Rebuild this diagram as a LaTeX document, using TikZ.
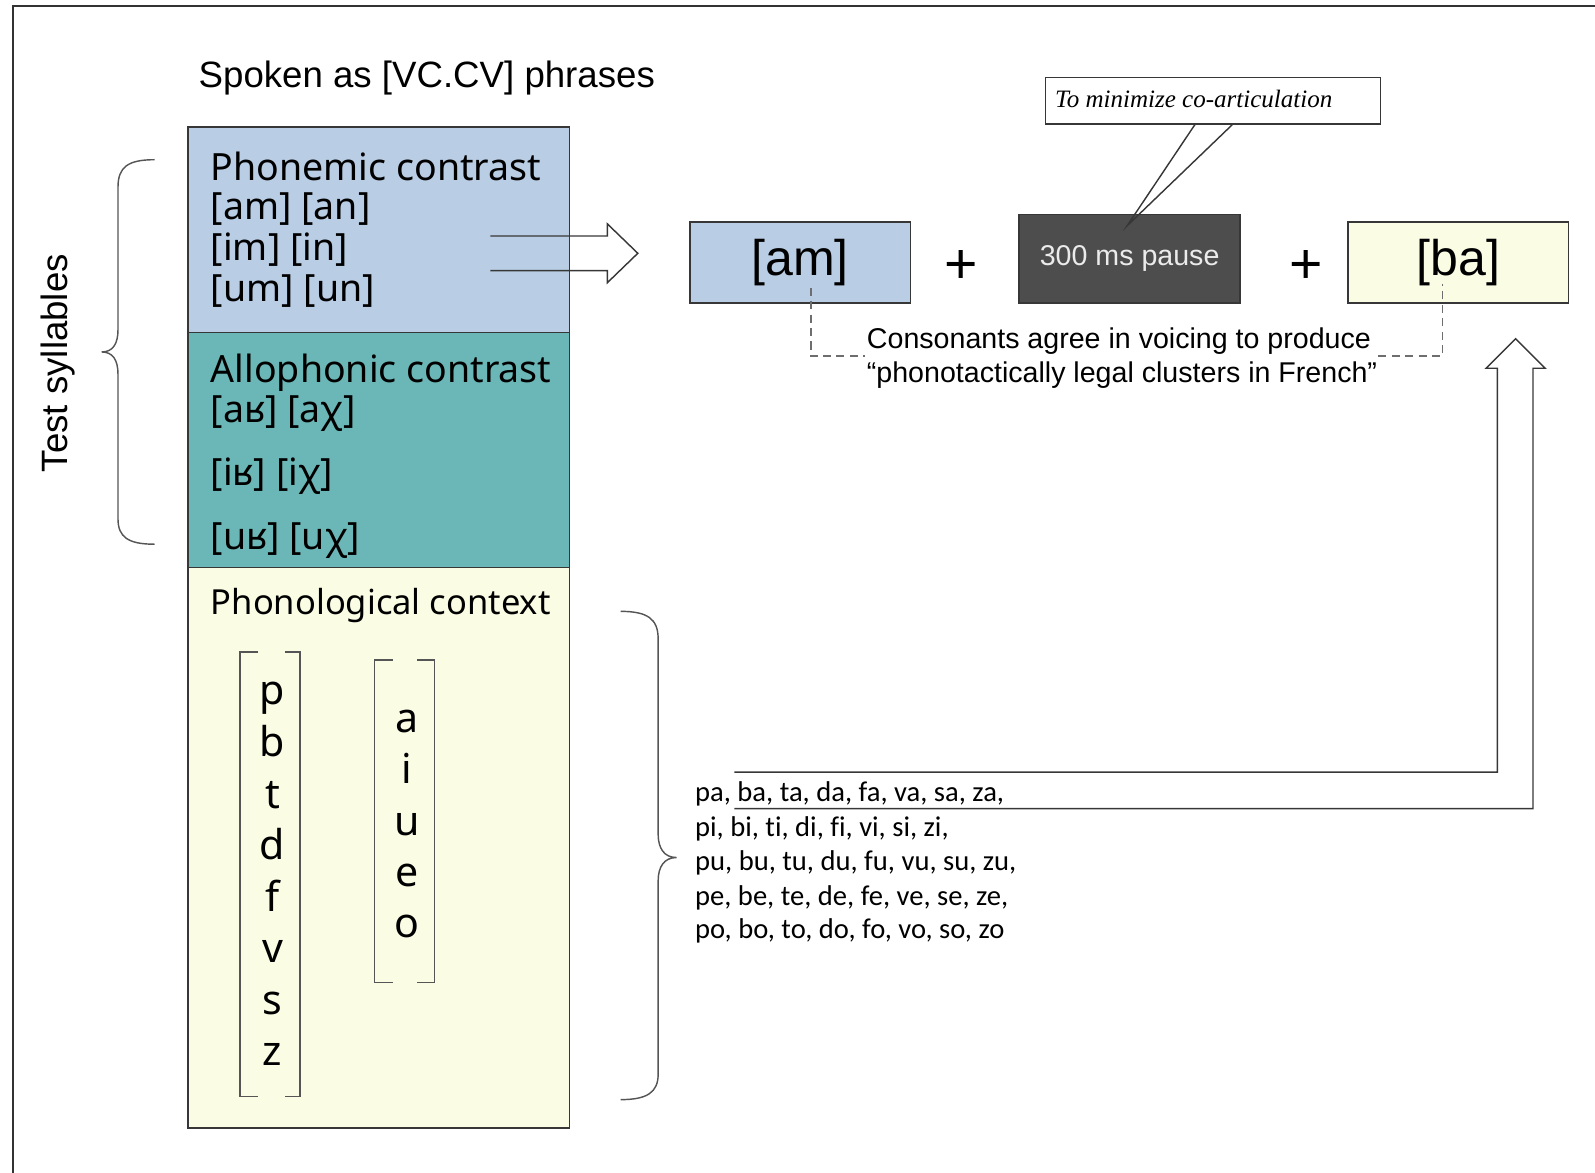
\documentclass[tikz,border=0pt]{standalone}
\usepackage{fontspec}
\setmainfont{Liberation Sans}
\newfontfamily\ipafont{Noto Sans}
\newfontfamily\listfont[Ligatures=NoCommon]{Carlito}
\newfontfamily\notefont{Liberation Serif}
\definecolor{phonblue}{RGB}{185,205,228}
\definecolor{allteal}{RGB}{107,183,183}
\definecolor{ctxyellow}{RGB}{250,252,228}
\definecolor{pausegray}{RGB}{77,77,77}
\definecolor{edgegray}{RGB}{55,55,55}
\definecolor{linegray}{RGB}{85,85,85}
\definecolor{dashgray}{RGB}{110,110,110}
\begin{document}
\begin{tikzpicture}[x=0.02cm,y=-0.02cm,
  panel/.style={draw=edgegray,line width=0.9pt,minimum width=7.5cm,inner sep=0pt},
  sbox/.style={draw=edgegray,line width=0.9pt,minimum width=4.34cm,minimum height=1.6cm,inner sep=0pt},
  head/.style={anchor=base west,inner sep=0pt,font=\ipafont\fontsize{21}{25}\selectfont},
  seg/.style={anchor=base,inner sep=0pt,font=\ipafont\fontsize{23}{27}\selectfont},
  syl/.style={anchor=base west,inner sep=0pt,font=\listfont\fontsize{16}{19}\selectfont},
  brk/.style={draw=linegray,line width=0.8pt},
  bracecurve/.style={draw=linegray,line width=0.8pt},
  blockarrow/.style={draw=edgegray,line width=0.8pt,line join=miter},
  voicing/.style={draw=dashgray,line width=0.9pt,dash pattern=on 4.5pt off 3pt},
  plus/.style={inner sep=0pt,font=\fontsize{32}{32}\selectfont}]
\useasboundingbox (0,0) rectangle (1568,1153);

% outer frame (top and left edges)
\draw[line width=1.1pt,black!80] (13,1153) -- (13,6) -- (1568,6);

% title
\node[anchor=base west,inner sep=0pt,font=\fontsize{20.5}{24}\selectfont] (title) at (195,86) {Spoken as [VC.CV] phrases};

% left column panels
\node[panel,fill=phonblue,minimum height=4.04cm] (phon) at (372.5,226) {};
\node[panel,fill=allteal,minimum height=4.62cm] (allo) at (372.5,442.5) {};
\node[panel,fill=ctxyellow,minimum height=11.02cm] (ctx) at (372.5,833.5) {};

% phonemic contrast
\node[head] (phonhead) at (207,177) {Phonemic contrast};
\node[head] (phon1) at (207,216) {[am] [an]};
\node[head] (phon2) at (207,256) {[im] [in]};
\node[head] (phon3) at (207,296) {[um] [un]};

% allophonic contrast
\node[head] (allohead) at (207,376) {Allophonic contrast};
\node[head] (allo1) at (207,415) {[aʁ] [aχ]};
\node[head] (allo2) at (207,477) {[iʁ] [iχ]};
\node[head] (allo3) at (207,540) {[uʁ] [uχ]};

% phonological context
\node[head,font=\ipafont\fontsize{19.3}{23}\selectfont] (ctxhead) at (207,604) {Phonological context};

% consonants in brackets
\draw[brk] (254,641) -- (236,641) -- (236,1078) -- (254,1078);
\draw[brk] (280,641) -- (295,641) -- (295,1078) -- (280,1078);
\foreach \c [count=\i] in {p,b,t,d,f,v,s,z}
  \node[seg] (cons\i) at (268,{693+(\i-1)*50.7}) {\c};

% vowels in brackets
\draw[brk] (386,649) -- (368,649) -- (368,966) -- (386,966);
\draw[brk] (410,649) -- (427,649) -- (427,966) -- (410,966);
\foreach \v [count=\i] in {a,i,u,e,o}
  \node[seg] (vow\i) at (400,{720+(\i-1)*50.5}) {\v};

% braces
\node[rotate=90,inner sep=0pt,font=\fontsize{20.5}{24}\selectfont] (testsyl) at (57,357) {Test syllables};
\draw[bracecurve] (152,157) .. controls (126,157) and (116,164) .. (116,184) -- (116,324)
  .. controls (116,338) and (111,346) .. (100,346)
  .. controls (111,346) and (116,354) .. (116,368) -- (116,510)
  .. controls (116,528) and (126,535) .. (152,535);
\draw[bracecurve] (610,601) .. controls (636,601) and (647,608) .. (647,628) -- (647,820)
  .. controls (647,834) and (653,843) .. (665,843)
  .. controls (653,843) and (647,852) .. (647,866) -- (647,1056)
  .. controls (647,1074) and (636,1081) .. (610,1081);

% syllable list
\node[syl] (syla) at (683,788) {pa, ba, ta, da, fa, va, sa, za,};
\node[syl] (syli) at (683,822) {pi, bi, ti, di, fi, vi, si, zi,};
\node[syl] (sylu) at (683,856) {pu, bu, tu, du, fu, vu, su, zu,};
\node[syl] (syle) at (683,890) {pe, be, te, de, fe, ve, se, ze,};
\node[syl] (sylo) at (683,923) {po, bo, to, do, fo, vo, so, zo};

% stimulus sequence
\node[sbox,fill=phonblue,font=\fontsize{28}{30}\selectfont] (am) at (786.5,258) {[am]};
\node[plus] (plus1) at (945,262) {+};
\node[sbox,fill=pausegray,minimum height=1.74cm,text=black!8,font=\fontsize{16}{18}\selectfont] (pause) at (1110.5,254.5) {300 ms pause};
\node[plus] (plus2) at (1284,262) {+};
\node[sbox,fill=ctxyellow,font=\fontsize{28}{30}\selectfont] (ba) at (1433.5,258) {[ba]};

% callout
\node[draw=edgegray,line width=0.8pt,fill=white,minimum width=6.58cm,minimum height=0.92cm,inner sep=0pt] (callout) at (1192.5,99) {};
\node[anchor=base west,inner sep=0pt,font=\notefont\itshape\fontsize{14}{16}\selectfont] (callouttext) at (1037,106) {To minimize co-articulation};
\draw[edgegray,line width=0.8pt,line join=miter] (1175,122) -- (1108,222) -- (1212,122);

% block arrow from phonemic panel to the sequence
\draw[blockarrow] (482,232) -- (597,232) -- (597,220) -- (627,249) -- (597,278) -- (597,266) -- (482,266);

% block arrow from syllable list up to [ba]
\draw[blockarrow] (722,759) -- (1472,759) -- (1472,362) -- (1461,362) -- (1490,333) -- (1519,362) -- (1507,362) -- (1507,795) -- (722,795);

% voicing agreement link
\draw[voicing] (797,283) -- (797,350) -- (850,350);
\draw[voicing] (1355,350) -- (1418,350) -- (1418,279);
\node[inner sep=0pt,font=\fontsize{16}{19}\selectfont] (agree1) at (1100,335) {Consonants agree in voicing to produce};
\node[inner sep=0pt,font=\fontsize{16}{19}\selectfont] (agree2) at (1103,369) {“phonotactically legal clusters in French”};
\end{tikzpicture}
\end{document}
